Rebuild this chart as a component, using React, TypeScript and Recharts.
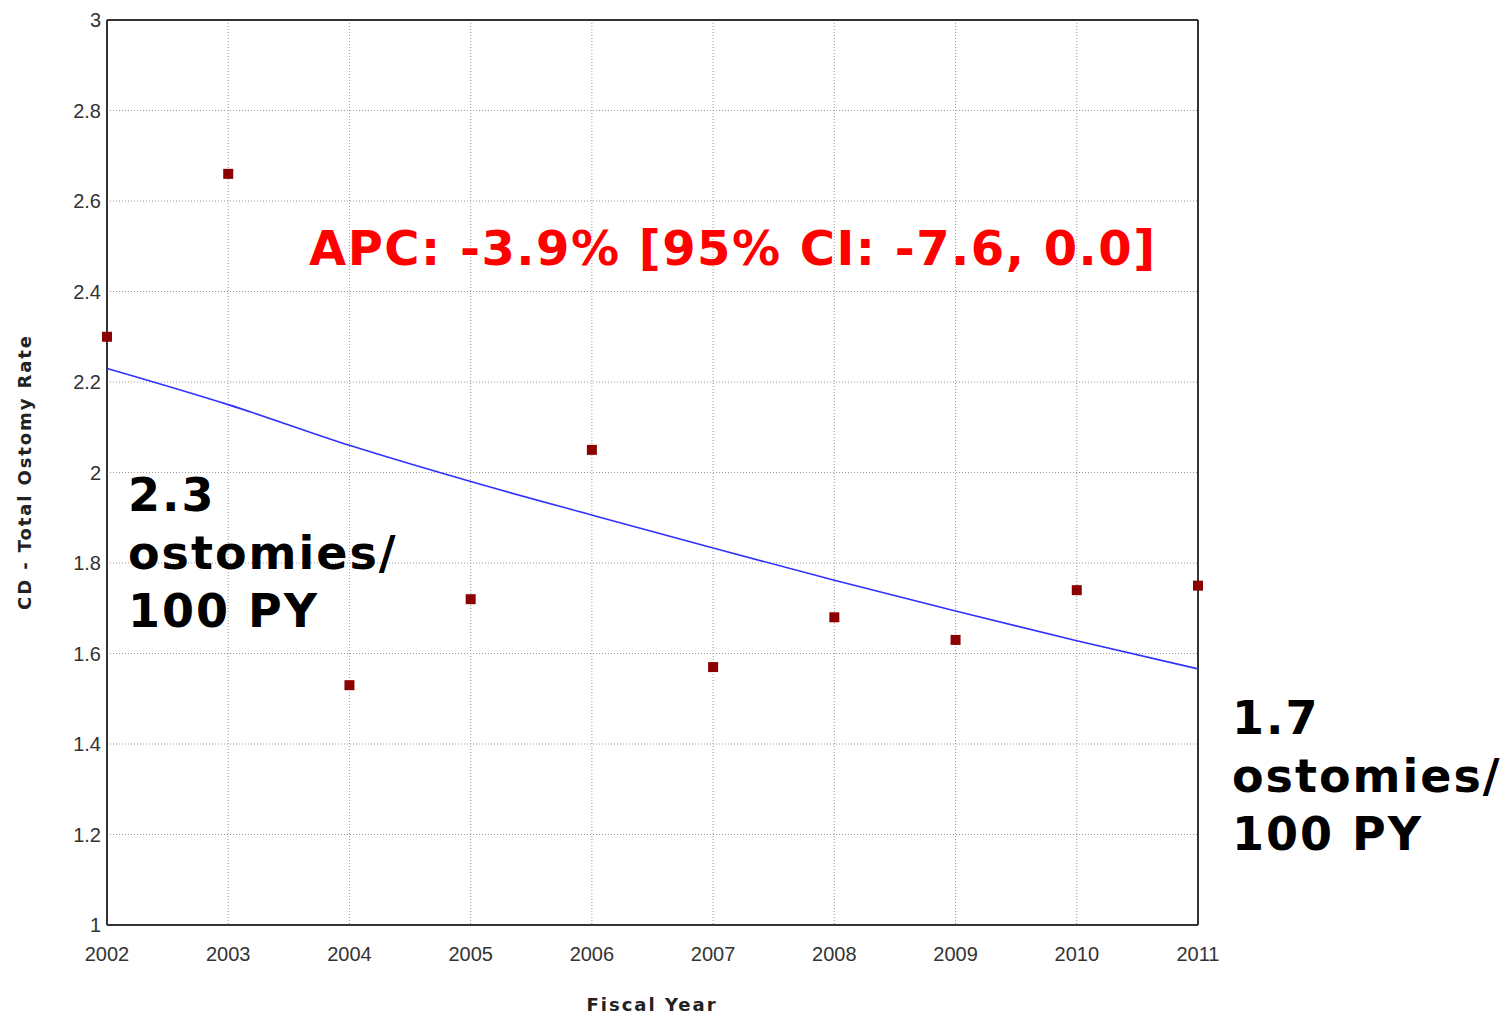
import React from "react";
import {
  ComposedChart,
  Scatter,
  Line,
  XAxis,
  YAxis,
  CartesianGrid,
  ReferenceLine,
} from "recharts";

const years = [2002, 2003, 2004, 2005, 2006, 2007, 2008, 2009, 2010, 2011];
const observedRates = [2.3, 2.66, 1.53, 1.72, 2.05, 1.57, 1.68, 1.63, 1.74, 1.75];
const trendRates = [2.23, 2.15, 2.06, 1.98, 1.906, 1.833, 1.762, 1.694, 1.628, 1.566];
const yTicks = [1, 1.2, 1.4, 1.6, 1.8, 2, 2.2, 2.4, 2.6, 2.8, 3];

const data = years.map((year, i) => ({
  year,
  rate: observedRates[i],
  trend: trendRates[i],
}));

const SquareMarker = (props: any) => {
  const { cx, cy } = props;
  if (cx == null || cy == null) return null;
  return <rect x={cx - 5} y={cy - 5} width={10} height={10} fill="#8b0000" />;
};

const tickStyle = { fontFamily: "'Liberation Sans', Arial, sans-serif", fontSize: 20, fill: "#333" };

export default function App() {
  return (
    <div style={{ position: "absolute", left: 0, top: 0, width: 1507, height: 1016, background: "#fff", overflow: "hidden" }}>
      <ComposedChart
        width={1507}
        height={1016}
        data={data}
        margin={{ top: 20, right: 309, bottom: 41, left: 47 }}
      >
        <CartesianGrid stroke="#999" strokeDasharray="1 2" strokeWidth={1} />
        <XAxis
          type="number"
          dataKey="year"
          domain={[2002, 2011]}
          ticks={years}
          interval={0}
          tickLine={false}
          axisLine={{ stroke: "#333", strokeWidth: 2 }}
          tick={tickStyle}
          tickMargin={16}
          height={50}
        />
        <YAxis
          type="number"
          domain={[1, 3]}
          ticks={yTicks}
          interval={0}
          tickLine={false}
          axisLine={{ stroke: "#333", strokeWidth: 2 }}
          tick={tickStyle}
          tickMargin={0}
          width={60}
        />
        <ReferenceLine y={3} stroke="#333" strokeWidth={2} ifOverflow="extendDomain" />
        <ReferenceLine x={2011} stroke="#333" strokeWidth={2} ifOverflow="extendDomain" />
        <Line
          dataKey="trend"
          stroke="#3030ff"
          strokeWidth={1.6}
          dot={false}
          type="monotone"
          isAnimationActive={false}
        />
        <Scatter dataKey="rate" shape={SquareMarker} isAnimationActive={false} />
      </ComposedChart>

      <div
        style={{
          position: "absolute",
          left: 24,
          top: 472,
          transform: "translate(-50%, -50%) rotate(-90deg)",
          whiteSpace: "nowrap",
          fontFamily: "'DejaVu Sans', Verdana, sans-serif",
          fontWeight: "bold",
          fontSize: 18,
          letterSpacing: 1.9,
          color: "#222",
        }}
      >
        CD - Total Ostomy Rate
      </div>
      <div
        style={{
          position: "absolute",
          left: 652,
          top: 1004,
          transform: "translate(-50%, -50%)",
          whiteSpace: "nowrap",
          fontFamily: "'DejaVu Sans', Verdana, sans-serif",
          fontWeight: "bold",
          fontSize: 18,
          letterSpacing: 2,
          color: "#222",
        }}
      >
        Fiscal Year
      </div>
      <div
        style={{
          position: "absolute",
          left: 309,
          top: 218,
          whiteSpace: "nowrap",
          fontFamily: "'DejaVu Sans', Verdana, sans-serif",
          fontWeight: "bold",
          fontSize: 48,
          letterSpacing: 1.5,
          lineHeight: "60px",
          color: "#ff0000",
        }}
      >
        APC: -3.9% [95% CI: -7.6, 0.0]
      </div>
      <div
        style={{
          position: "absolute",
          left: 128,
          top: 466,
          whiteSpace: "nowrap",
          fontFamily: "'DejaVu Sans', Verdana, sans-serif",
          fontWeight: "bold",
          fontSize: 46,
          letterSpacing: 2,
          lineHeight: "58px",
          color: "#000",
        }}
      >
        2.3
        <br />
        ostomies/
        <br />
        100 PY
      </div>
      <div
        style={{
          position: "absolute",
          left: 1232,
          top: 689,
          whiteSpace: "nowrap",
          fontFamily: "'DejaVu Sans', Verdana, sans-serif",
          fontWeight: "bold",
          fontSize: 46,
          letterSpacing: 2,
          lineHeight: "58px",
          color: "#000",
        }}
      >
        1.7
        <br />
        ostomies/
        <br />
        100 PY
      </div>
    </div>
  );
}
